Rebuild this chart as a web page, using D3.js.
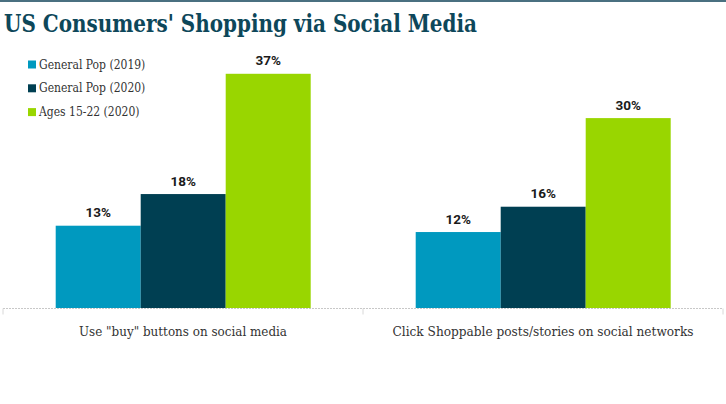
<!DOCTYPE html>
<html><head><meta charset="utf-8">
<script src="https://cdn.jsdelivr.net/npm/d3@7"></script>
<style>
html,body{margin:0;padding:0;background:#fff;}
svg{display:block;}
</style></head>
<body>
<script>
const categories = ["Use \"buy\" buttons on social media", "Click Shoppable posts/stories on social networks"];
const seriesNames = ["General Pop (2019)", "General Pop (2020)", "Ages 15-22 (2020)"];
const seriesColors = ["#0099BF", "#003F52", "#99D600"];
const genPop2019 = [13, 12];
const genPop2020 = [18, 16];
const ages15to22 = [37, 30];
const seriesValues = [genPop2019, genPop2020, ages15to22];
const titleText = "US Consumers' Shopping via Social Media";

const W = 726, H = 404;
const svg = d3.select("body").append("svg").attr("width", W).attr("height", H);

// top border
svg.append("rect").attr("x",0).attr("y",0).attr("width",W).attr("height",2).attr("fill","#4a7080");

// title
svg.append("text").attr("x",4).attr("y",31.5)
  .attr("font-family","'DejaVu Serif Condensed','DejaVu Serif',serif")
  .attr("font-weight","bold").attr("font-size",24)
  .attr("fill","#0D475A")
  .attr("textLength",473).attr("lengthAdjust","spacingAndGlyphs")
  .text(titleText);

const x0 = d3.scaleBand().domain(categories).range([3, 723]).paddingInner(0).paddingOuter(0);
const x1 = d3.scaleBand().domain(seriesNames).range([52.7, 307.7]);
const y = d3.scaleLinear().domain([0, 40]).range([308, 54.8]);

const rows = categories.map((c,i)=>({cat:c, vals: seriesNames.map((s,j)=>({s, v: seriesValues[j][i], color: seriesColors[j]}))}));

// axis line (dotted)
const axisG = svg.append("g").attr("transform","translate(0,308.5)");
axisG.append("line").attr("x1",3).attr("x2",723).attr("y1",0).attr("y2",0)
  .attr("stroke","#c8c8c8").attr("stroke-width",1).attr("stroke-dasharray","2,1");
const tickPos = [3, ...categories.map(c=>x0(c)+x0.bandwidth())];
axisG.selectAll("line.tick").data(tickPos).enter().append("line").attr("class","tick")
  .attr("x1",d=>d).attr("x2",d=>d).attr("y1",0).attr("y2",6)
  .attr("stroke","#d8d8d8").attr("stroke-width",1);

const g = svg.selectAll("g.grp").data(rows).enter().append("g").attr("class","grp")
  .attr("transform", d=>`translate(${x0(d.cat)},0)`);

g.selectAll("rect").data(d=>d.vals).enter().append("rect")
  .attr("x", d=>x1(d.s)).attr("width", x1.bandwidth())
  .attr("y", d=>y(d.v)).attr("height", d=>y(0)-y(d.v))
  .attr("fill", d=>d.color);

g.selectAll("text.val").data(d=>d.vals).enter().append("text").attr("class","val")
  .attr("x", d=>x1(d.s)+x1.bandwidth()/2).attr("y", d=>y(d.v)-8.5)
  .attr("text-anchor","middle")
  .attr("font-family","Roboto, sans-serif").attr("font-weight","bold").attr("font-size",13.5)
  .attr("fill","#1a1a1a")
  .text(d=>d.v+"%");

// category labels
const catWidths = [208, 301];
svg.selectAll("text.cat").data(categories).enter().append("text").attr("class","cat")
  .attr("x", d=>x0(d)+x0.bandwidth()/2).attr("y",336)
  .attr("text-anchor","middle")
  .attr("font-family","'DejaVu Serif Condensed','DejaVu Serif',serif")
  .attr("font-size",13).attr("fill","#333")
  .attr("textLength",(d,i)=>catWidths[i]).attr("lengthAdjust","spacingAndGlyphs")
  .text(d=>d);

// legend
const lg = svg.selectAll("g.leg").data(seriesNames).enter().append("g").attr("class","leg")
  .attr("transform",(d,i)=>`translate(28,${60.5+i*23.8})`);
lg.append("rect").attr("width",8).attr("height",8).attr("fill",(d,i)=>seriesColors[i]);
lg.append("text").attr("x",11).attr("y",8)
  .attr("font-family","'DejaVu Serif Condensed','DejaVu Serif',serif")
  .attr("font-size",12).attr("fill","#333")
  .text(d=>d);
</script>
</body></html>
